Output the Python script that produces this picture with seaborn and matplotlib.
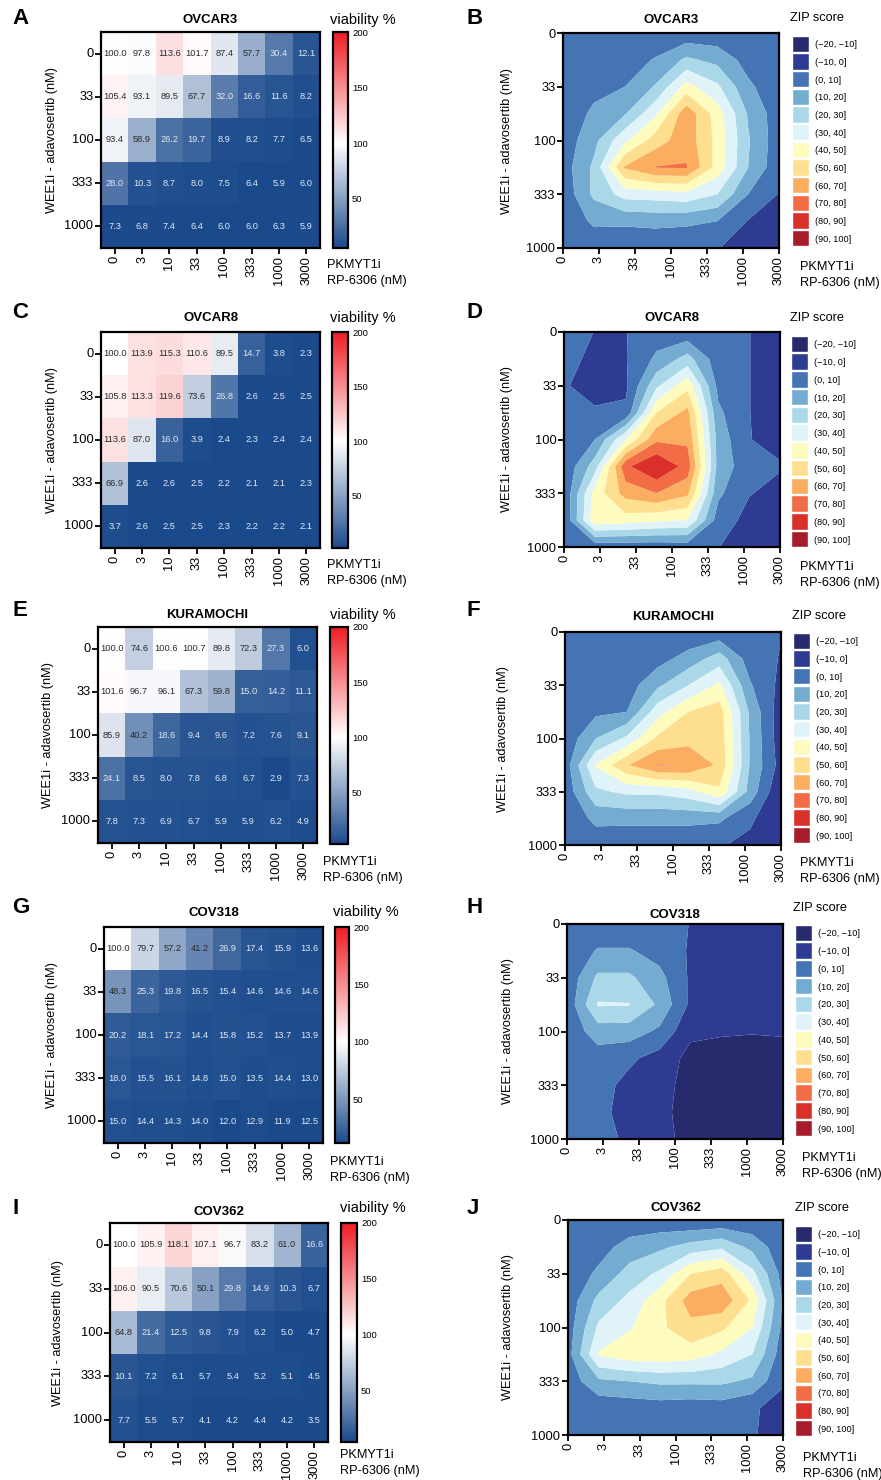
import numpy as np
import pandas as pd
import matplotlib
matplotlib.use('Agg')
import matplotlib.pyplot as plt
from matplotlib.colors import LinearSegmentedColormap
import seaborn as sns

sns.set_style("ticks")
plt.rcParams['font.family'] = ['Liberation Sans', 'DejaVu Sans']
for k in ['text.color', 'axes.labelcolor', 'xtick.color', 'ytick.color', 'axes.edgecolor']:
    plt.rcParams[k] = 'black'

W, H = 881, 1480

# ---- DATA ----
wee1_doses = ['0', '33', '100', '333', '1000']
pkmyt1_doses = ['0', '3', '10', '33', '100', '333', '1000', '3000']
zip_xticks = ['0', '3', '33', '100', '333', '1000', '3000']
cell_lines = ['OVCAR3', 'OVCAR8', 'KURAMOCHI', 'COV318', 'COV362']

zip_levels = [-20, -10, 0, 10, 20, 30, 40, 50, 60, 70, 80, 90, 100]
zip_bins = ['(\u221220, \u221210]', '(\u221210, 0]', '(0, 10]', '(10, 20]', '(20, 30]', '(30, 40]',
            '(40, 50]', '(50, 60]', '(60, 70]', '(70, 80]', '(80, 90]', '(90, 100]']
zip_colors = ['#282a6e', '#2e3b93', '#4474b4', '#74acd1', '#abd8e8', '#e0f3f8',
              '#fefbbe', '#fddf8f', '#fbad60', '#f26d45', '#d9302a', '#a61c2a']

viab_ovcar3 = [[100.0, 97.8, 113.6, 101.7, 87.4, 57.7, 30.4, 12.1],
               [105.4, 93.1, 89.5, 67.7, 32.0, 16.6, 11.6, 8.2],
               [93.4, 58.9, 26.2, 19.7, 8.9, 8.2, 7.7, 6.5],
               [28.0, 10.3, 8.7, 8.0, 7.5, 6.4, 5.9, 6.0],
               [7.3, 6.8, 7.4, 6.4, 6.0, 6.0, 6.3, 5.9]]
viab_ovcar8 = [[100.0, 113.9, 115.3, 110.6, 89.5, 14.7, 3.8, 2.3],
               [105.8, 113.3, 119.6, 73.6, 26.8, 2.6, 2.5, 2.5],
               [113.6, 87.0, 16.0, 3.9, 2.4, 2.3, 2.4, 2.4],
               [66.9, 2.6, 2.6, 2.5, 2.2, 2.1, 2.1, 2.3],
               [3.7, 2.6, 2.5, 2.5, 2.3, 2.2, 2.2, 2.1]]
viab_kuramochi = [[100.0, 74.6, 100.6, 100.7, 89.8, 72.3, 27.3, 6.0],
                  [101.6, 96.7, 96.1, 67.3, 59.8, 15.0, 14.2, 11.1],
                  [85.9, 40.2, 18.6, 9.4, 9.6, 7.2, 7.6, 9.1],
                  [24.1, 8.5, 8.0, 7.8, 6.8, 6.7, 2.9, 7.3],
                  [7.8, 7.3, 6.9, 6.7, 5.9, 5.9, 6.2, 4.9]]
viab_cov318 = [[100.0, 79.7, 57.2, 41.2, 26.9, 17.4, 15.9, 13.6],
               [48.3, 25.3, 19.8, 16.5, 15.4, 14.6, 14.6, 14.6],
               [20.2, 18.1, 17.2, 14.4, 15.8, 15.2, 13.7, 13.9],
               [18.0, 15.5, 16.1, 14.8, 15.0, 13.5, 14.4, 13.0],
               [15.0, 14.4, 14.3, 14.0, 12.0, 12.9, 11.9, 12.5]]
viab_cov362 = [[100.0, 105.9, 118.1, 107.1, 96.7, 83.2, 61.0, 16.6],
               [106.0, 90.5, 70.6, 50.1, 29.8, 14.9, 10.3, 6.7],
               [64.8, 21.4, 12.5, 9.8, 7.9, 6.2, 5.0, 4.7],
               [10.1, 7.2, 6.1, 5.7, 5.4, 5.2, 5.1, 4.5],
               [7.7, 5.5, 5.7, 4.1, 4.2, 4.4, 4.2, 3.5]]

# ZIP synergy surfaces (9 rows top->bottom, 8 columns left->right)
zip_ovcar3 = [[1, 1, 1, 1, 3, 3, 2, 1],
              [1, 3, 4, 11, 22, 17, 6, 2],
              [2, 7, 10, 21, 44, 32, 12, 3],
              [3, 12, 19, 38, 67, 45, 19, 4],
              [4, 17, 38, 55, 66, 47, 21, 4],
              [5, 22, 61, 70.5, 70.8, 46, 20, 3],
              [3, 22, 34, 35, 37, 30, 10, -0.5],
              [2, 12, 12, 13, 12, 10, -0.5, -5],
              [1, 3, 2, 2, 2, 0.5, -5, -9]]
zip_ovcar8 = [[2, -0.1, -0.3, 5, 3, 2, 0.3, -8],
              [2.7, -2, -0.5, 12, 24, 4, 0.3, -8],
              [0.7, -3, -2, 28, 47, 7, 0.3, -8],
              [0.5, 1, 2, 50, 63, 12, 0.3, -8],
              [1, 10, 40, 68, 68, 16, 0.3, -3],
              [1.5, 25, 78, 90.3, 76, 16, 4, 0.8],
              [1, 44, 64, 70, 62, 12, 0.5, -3],
              [1, 47, 45, 42, 40, 5, -3, -7],
              [0.5, 3, 3, 3, 4, 0.3, -6, -8]]
zip_kuramochi = [[1, 1, 1, 1, 2, 3, 2, 0.3],
                 [1, 3, 3, 6, 14, 25, 5, -0.6],
                 [1, 5, 5, 18, 30, 42, 11, -2.7],
                 [2, 8, 10, 36, 50, 55, 18, -6],
                 [3, 20, 32, 52, 56, 56, 19, -5.7],
                 [4, 41, 59, 70.5, 69.8, 58, 19, -4],
                 [3, 28, 32, 32, 36, 48, 16, -9.5],
                 [1, 13, 13, 13, 13, 12, 2, -9.5],
                 [1, 3, 2, 2, 2, 1, -3, -9.5]]
zip_cov318 = [[1, 2, 2, 3, -0.2, -3, -3, -3],
              [2, 11, 11, 6, -1, -4, -4, -4],
              [3, 22, 22, 13, -1.5, -5, -5, -5],
              [3, 31, 30.5, 18, -2, -6, -6, -6],
              [3, 15, 15, 8, -8, -9, -9.5, -9],
              [3, 5, 2, -4, -13, -14, -14, -14],
              [3, 4, -3, -7, -13, -15, -15, -15],
              [3, 3, -4, -8, -13, -15, -15, -15],
              [3, 2, -1, -7, -13, -15, -15, -15]]
zip_cov362 = [[1, 2, 3, 3, 1, 2, 2, 1],
              [2, 6, 14, 18, 24, 28, 17, 3],
              [3, 12, 24, 32, 50, 56, 33, 6],
              [4, 23, 33, 47, 65, 67, 48, 9],
              [5, 32, 39, 48, 57, 52, 40, 7],
              [6, 41, 46, 47, 45, 38, 30, 4],
              [4, 18, 20, 22, 22, 22, 18, 1],
              [2, 3, 4, 5, 4, 5, 1, -3],
              [1, 3, 2, 2, 2, 2, 1, -5]]

viab_sets = [viab_ovcar3, viab_ovcar8, viab_kuramochi, viab_cov318, viab_cov362]
zip_sets = [zip_ovcar3, zip_ovcar8, zip_kuramochi, zip_cov318, zip_cov362]

# ---- LAYOUT (pixels: left, top, right, bottom) ----
layout = [
    dict(heat=(101, 32, 320, 248), cbar=(333, 32, 348, 248), cont=(563, 33, 779, 248), leg=(792, 35, 809, 247),
         ty_h=20, ty_c=20, let_y=18, vt=(330, 20), zt=(790, 18), xn_h=(327, 265), xn_c=(800, 267), yl=(52, 507)),
    dict(heat=(101, 332, 320, 548), cbar=(332, 332, 348, 548), cont=(564, 332, 780, 547), leg=(791, 335, 808, 548),
         ty_h=318, ty_c=318, let_y=312, vt=(330, 318), zt=(790, 318), xn_h=(327, 565), xn_c=(800, 567), yl=(52, 507)),
    dict(heat=(98, 627, 317, 843), cbar=(330, 627, 348, 844), cont=(565, 632, 781, 845), leg=(793, 632, 810, 844),
         ty_h=615, ty_c=617, let_y=610, vt=(330, 615), zt=(792, 616), xn_h=(323, 862), xn_c=(800, 863), yl=(48, 503)),
    dict(heat=(104, 927, 323, 1143), cbar=(335, 927, 349, 1143), cont=(567, 924, 783, 1139), leg=(795, 924, 812, 1137),
         ty_h=913, ty_c=915, let_y=908, vt=(333, 912), zt=(793, 908), xn_h=(330, 1162), xn_c=(802, 1158), yl=(52, 508)),
    dict(heat=(110, 1223, 328, 1442), cbar=(341, 1223, 357, 1442), cont=(568, 1220, 783, 1435), leg=(795, 1225, 812, 1437),
         ty_h=1212, ty_c=1208, let_y=1208, vt=(340, 1208), zt=(795, 1208), xn_h=(340, 1455), xn_c=(803, 1458), yl=(58, 508)),
]
letters = [('A', 'B'), ('C', 'D'), ('E', 'F'), ('G', 'H'), ('I', 'J')]

BLUE, RED = '#1a4a8c', '#ee1d25'
TICK_FS = 9.3

fig = plt.figure(figsize=(W / 100, H / 100), dpi=100)


def rect(r):
    l, t, rr, b = r
    return [l / W, 1 - b / H, (rr - l) / W, (b - t) / H]


def put(x, y, s, **kw):
    fig.text(x / W, 1 - y / H, s, **kw)


def viability_panel(ax, cax, values):
    df = pd.DataFrame(values, index=wee1_doses, columns=pkmyt1_doses)
    vmin = df.values.min()
    pos = (100 - vmin) / (200 - vmin)
    cmap = LinearSegmentedColormap.from_list('viab', [(0, BLUE), (pos, 'white'), (1, RED)])
    sns.heatmap(df, ax=ax, cbar_ax=cax, cmap=cmap, vmin=vmin, vmax=200,
                annot=True, fmt='.1f', annot_kws={'fontsize': 6.7})
    for t in ax.texts:
        t.set_color('#2b2b2b' if float(t.get_text()) > 35 else '#e2e8f2')
    for sp in ax.spines.values():
        sp.set_visible(True)
        sp.set_linewidth(1.6)
    ax.tick_params(axis='both', labelsize=TICK_FS, length=4, width=1.3, pad=1.5)
    ax.set_yticklabels(wee1_doses, rotation=0)
    ax.set_xticklabels(pkmyt1_doses, rotation=90)
    ax.set_xlabel('')
    ax.set_ylabel('')
    cbar = ax.collections[0].colorbar
    cbar.set_ticks([50, 100, 150, 200])
    cbar.outline.set_linewidth(1.6)
    cax.tick_params(labelsize=6.8, length=3, width=1.2, direction='in', left=True, right=True,
                    labelleft=False, labelright=True, pad=3)


def zip_panel(ax, z):
    xs = np.linspace(0, 6, len(pkmyt1_doses))
    ys = np.linspace(0, 4, len(z))
    ax.contourf(xs, ys, np.array(z), levels=zip_levels, colors=zip_colors, antialiased=True)
    ax.set_xlim(0, 6)
    ax.set_ylim(4, 0)
    ax.set_xticks(range(len(zip_xticks)))
    ax.set_xticklabels(zip_xticks, rotation=90)
    ax.set_yticks(range(len(wee1_doses)))
    ax.set_yticklabels(wee1_doses)
    ax.tick_params(axis='both', labelsize=TICK_FS, length=4, width=1.3, pad=1.5)
    for sp in ax.spines.values():
        sp.set_linewidth(1.6)


def zip_legend(lax):
    lax.barh(np.arange(len(zip_colors)), 1, height=0.94, color=zip_colors)
    lax.set_xlim(0, 1)
    lax.set_ylim(len(zip_colors) - 0.5, -0.5)
    lax.set_xticks([])
    lax.yaxis.tick_right()
    lax.set_yticks(np.arange(len(zip_bins)))
    lax.set_yticklabels(zip_bins)
    lax.tick_params(axis='y', length=0, labelsize=6.6, pad=4)
    for sp in lax.spines.values():
        sp.set_visible(False)


for i, L in enumerate(layout):
    ax_h = fig.add_axes(rect(L['heat']))
    cax = fig.add_axes(rect(L['cbar']))
    viability_panel(ax_h, cax, viab_sets[i])

    ax_c = fig.add_axes(rect(L['cont']))
    zip_panel(ax_c, zip_sets[i])

    lax = fig.add_axes(rect(L['leg']))
    zip_legend(lax)

    hx = (L['heat'][0] + L['heat'][2]) / 2
    cx = (L['cont'][0] + L['cont'][2]) / 2
    put(hx, L['ty_h'], cell_lines[i], ha='center', va='center', fontsize=9.5, fontweight='bold')
    put(cx, L['ty_c'], cell_lines[i], ha='center', va='center', fontsize=9.5, fontweight='bold')

    put(12, L['let_y'], letters[i][0], ha='left', va='center', fontsize=16, fontweight='bold')
    put(467, L['let_y'], letters[i][1], ha='left', va='center', fontsize=16, fontweight='bold')

    put(*L['vt'], 'viability %', ha='left', va='center', fontsize=10.5)
    put(*L['zt'], 'ZIP score', ha='left', va='center', fontsize=9.2)

    for (x, y) in (L['xn_h'], L['xn_c']):
        put(x, y, 'PKMYT1i', ha='left', va='center', fontsize=9.2)
        put(x, y + 16, 'RP-6306 (nM)', ha='left', va='center', fontsize=9.2)

    hy = (L['heat'][1] + L['heat'][3]) / 2
    cy = (L['cont'][1] + L['cont'][3]) / 2
    put(L['yl'][0], hy, 'WEE1i - adavosertib (nM)', ha='center', va='center', rotation=90, fontsize=9.2)
    put(L['yl'][1], cy, 'WEE1i - adavosertib (nM)', ha='center', va='center', rotation=90, fontsize=9.2)

fig.savefig('out.png', dpi=100)
